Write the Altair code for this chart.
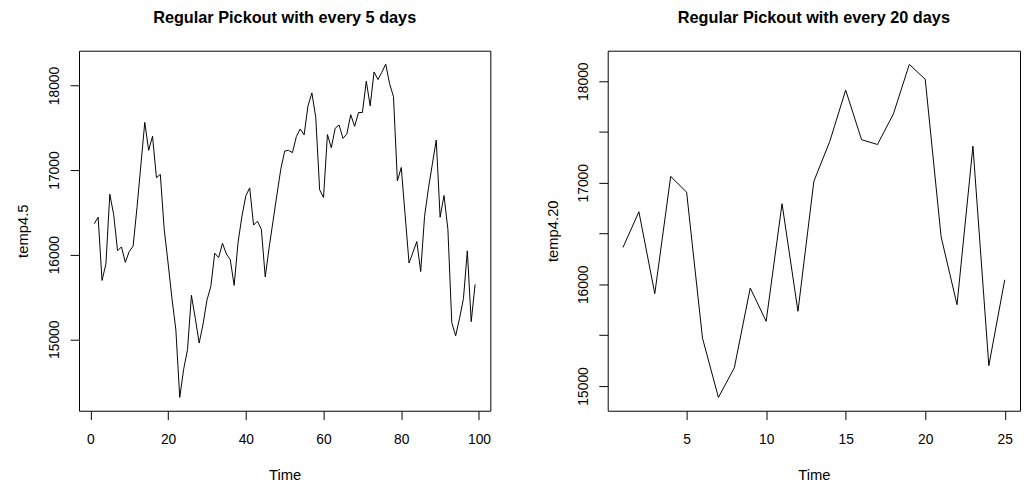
import altair as alt
import pandas as pd

# temp4.5 : every 5 days (Time 1..99)
temp4_5 = [
    16365, 16443, 15695, 15890, 16715, 16474, 16046, 16092, 15909, 16038,
    16100, 16559, 17060, 17564, 17233, 17400, 16910, 16949, 16299, 15901,
    15480, 15111, 14313, 14644, 14878, 15520, 15247, 14955, 15180, 15462,
    15625, 16018, 15965, 16135, 16007, 15941, 15637, 16143, 16455, 16696,
    16790, 16350, 16396, 16299, 15737, 16084, 16396, 16707, 17010, 17225,
    17233, 17206, 17395, 17486, 17416, 17759, 17912, 17622, 16766, 16676,
    17420, 17264, 17494, 17533, 17375, 17428, 17654, 17517, 17680, 17681,
    18051, 17759, 18160, 18070, 18156, 18253, 18020, 17868, 16871, 17031,
    16465, 15901, 16026, 16155, 15800, 16455, 16785, 17070, 17355, 16443,
    16700, 16299, 15197, 15041, 15247, 15481, 16045, 15208, 15649,
]
# temp4.20 : every 20 days (Time 1..25)
temp4_20 = [
    16363, 16715, 15909, 17063, 16907, 15470, 14887, 15179, 15964, 15636,
    16794, 15735, 17015, 17407, 17912, 17424, 17377, 17678, 18165, 18020,
    16468, 15800, 17360, 15200, 16045,
]

df5 = pd.DataFrame({"Time": list(range(1, len(temp4_5) + 1)), "value": temp4_5})
df20 = pd.DataFrame({"Time": list(range(1, len(temp4_20) + 1)), "value": temp4_20})

FONT = "Liberation Sans"

def axis_x(values):
    return alt.Axis(
        values=values, domain=False, grid=False, ticks=True, tickSize=9,
        tickColor="black", tickWidth=1, labelColor="black", labelFont=FONT,
        labelFontSize=14, labelPadding=13, labelFlush=False, labelOverlap=False,
        title="Time", titleFont=FONT, titleFontSize=15, titleFontWeight="normal",
        titleColor="black", titlePadding=22,
    )

def axis_y(values, title, label_expr=None, pad=9):
    kw = dict(
        values=values, domain=False, grid=False, ticks=True, tickSize=9,
        tickColor="black", tickWidth=1, labelColor="black", labelFont=FONT,
        labelFontSize=14, labelPadding=pad, labelAngle=270, labelAlign="center",
        labelBaseline="bottom", labelOverlap=False, labelFlush=False, format="d",
        title=title, titleFont=FONT, titleFontSize=15, titleFontWeight="normal",
        titleColor="black", titlePadding=17,
    )
    if label_expr is not None:
        kw["labelExpr"] = label_expr
    return alt.Axis(**kw)

title_kw = dict(font=FONT, fontSize=16.5, fontWeight="bold", color="black", offset=25, anchor="middle")

left = alt.Chart(df5).mark_line(color="black", strokeWidth=1, clip=True).encode(
    x=alt.X("Time:Q", scale=alt.Scale(domain=[-2.92, 102.92], nice=False, zero=False),
            axis=axis_x([0, 20, 40, 60, 80, 100])),
    y=alt.Y("value:Q", scale=alt.Scale(domain=[14155, 18411], nice=False, zero=False),
            axis=axis_y([15000, 16000, 17000, 18000], "temp4.5")),
).properties(
    width=417, height=365,
    title=alt.TitleParams("Regular Pickout with every 5 days", **title_kw),
)

right = alt.Chart(df20).mark_line(color="black", strokeWidth=1, clip=True).encode(
    x=alt.X("Time:Q", scale=alt.Scale(domain=[0.04, 25.96], nice=False, zero=False),
            axis=axis_x([5, 10, 15, 20, 25])),
    y=alt.Y("value:Q", scale=alt.Scale(domain=[14756, 18300], nice=False, zero=False),
            axis=axis_y([15000, 15500, 16000, 16500, 17000, 17500, 18000], "temp4.20",
                        label_expr="datum.value % 1000 == 0 ? datum.label : ''", pad=8)),
).properties(
    width=418, height=365,
    title=alt.TitleParams("Regular Pickout with every 20 days", **title_kw),
)

chart = alt.hconcat(left, right, spacing=54).properties(
    padding={"left": 7, "top": -2, "right": 0, "bottom": 0},
    background="white",
).configure_view(stroke="black", strokeWidth=1).configure_concat(spacing=54)

chart.save("out.html", embed_options={"renderer": "svg", "actions": False})
